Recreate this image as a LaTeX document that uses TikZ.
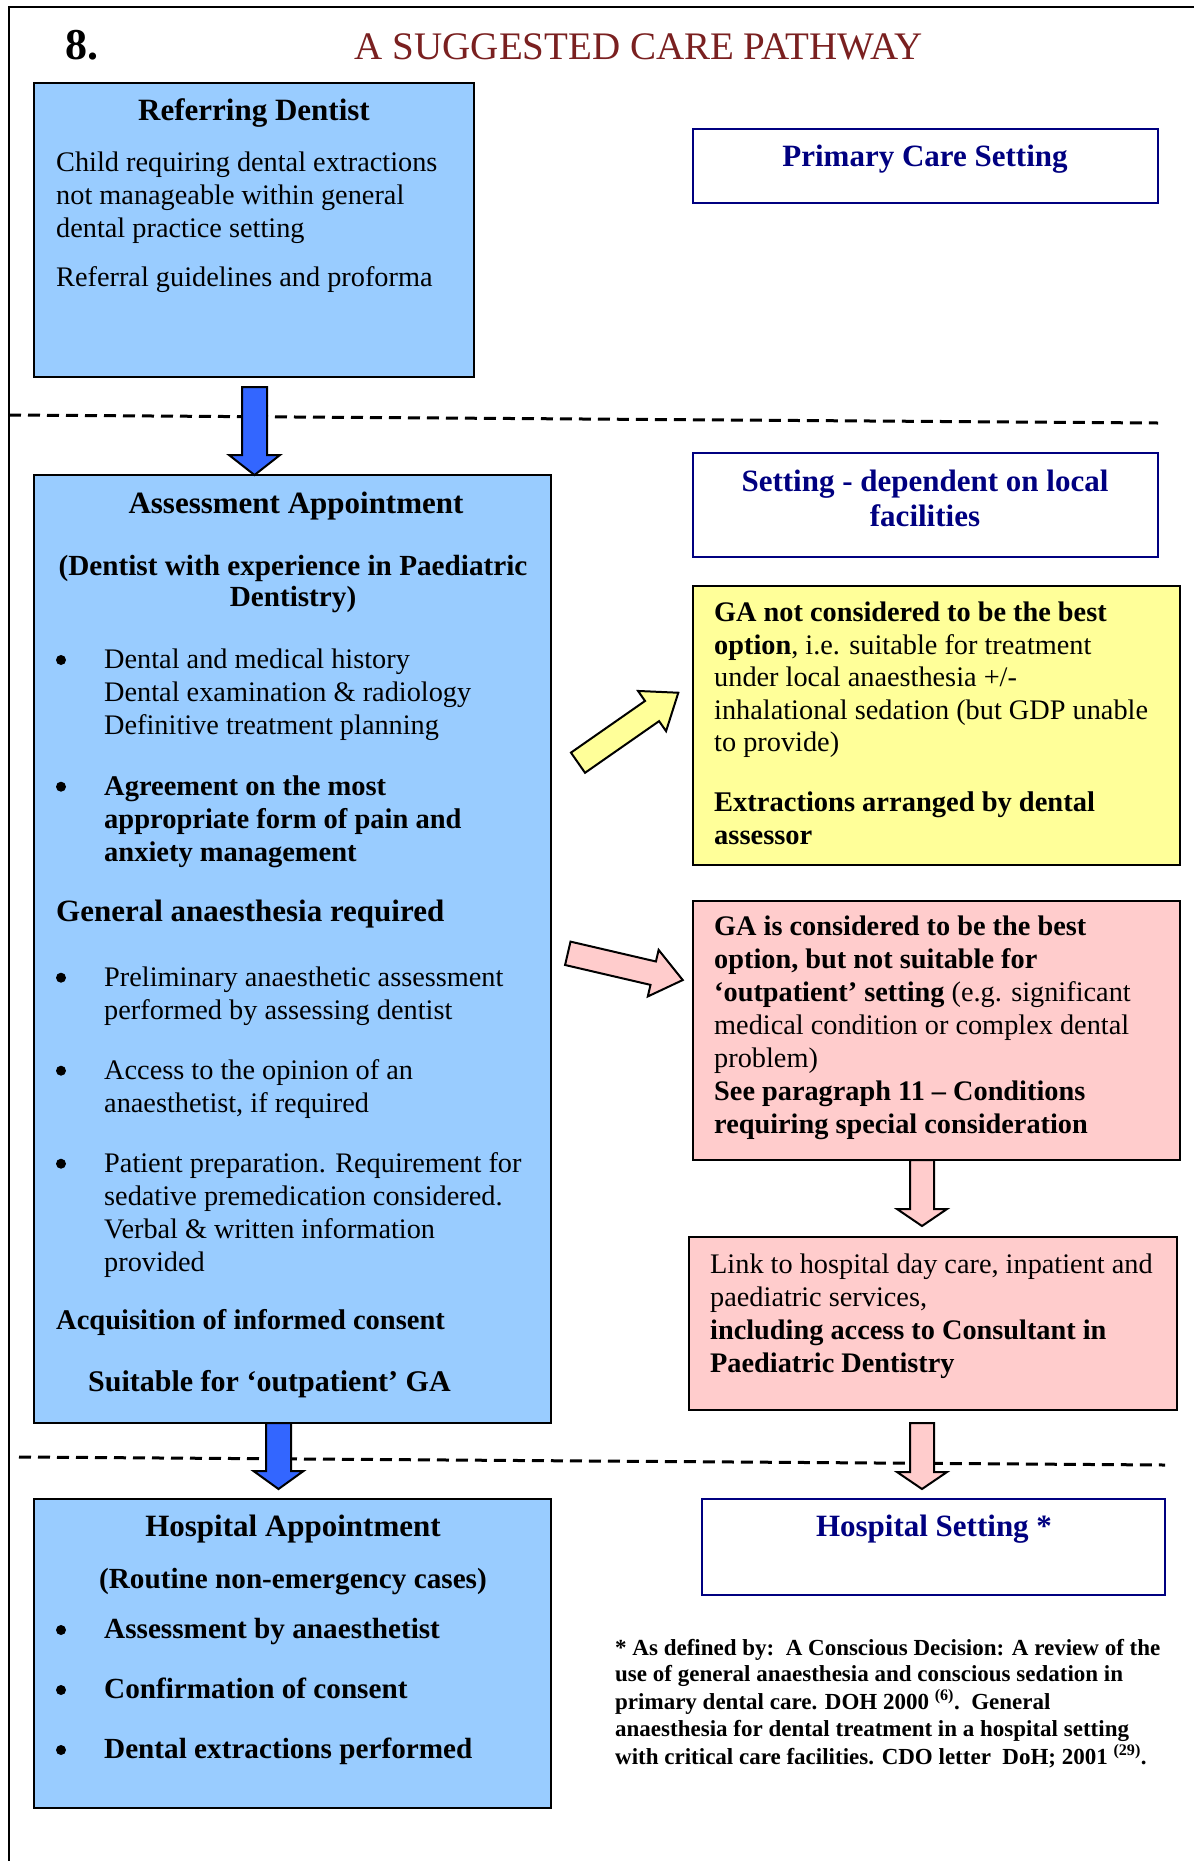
\documentclass[tikz,border=0pt]{standalone}
\usepackage{fontspec}
\setmainfont{Liberation Serif}
\definecolor{boxblue}{RGB}{153,204,255}
\definecolor{arrblue}{RGB}{51,102,255}
\definecolor{yel}{RGB}{255,255,153}
\definecolor{pnk}{RGB}{255,204,204}
\definecolor{navy}{RGB}{0,0,128}
\definecolor{titlered}{RGB}{122,32,32}
\newcommand\bodyfont{\fontsize{28.3}{33}\selectfont}
\newcommand\boldbody{\fontsize{28.5}{33}\selectfont\bfseries}
\newcommand\headfont{\fontsize{31}{35}\selectfont\bfseries}
\newcommand\subfont{\fontsize{29.2}{31.7}\selectfont\bfseries}
\newcommand\notefont{\fontsize{23}{26.5}\selectfont\bfseries}
\newcommand\rowsL[1]{\begin{tabular}[t]{@{}l@{}}#1\end{tabular}}
\newcommand\rowsC[1]{\begin{tabular}[t]{@{}c@{}}#1\end{tabular}}
\tikzset{
  frame/.style={draw=black, line width=2.5pt, anchor=north west, inner sep=0pt, outer sep=0pt},
  navybox/.style={draw=navy, line width=2.5pt, anchor=north west, inner sep=0pt, outer sep=0pt},
  tl/.style={anchor=base west, inner sep=0pt, font=\bodyfont},
  tc/.style={anchor=base, inner sep=0pt},
  bul/.style={circle, fill=black, inner sep=0pt, minimum size=10pt, yshift=8.3pt},
  dashline/.style={line width=3pt, dash pattern=on 12pt off 7pt},
  blockarr/.style={draw=black, line width=2pt, line join=miter},
}
\begin{document}
\begin{tikzpicture}[x=1pt, y=-1pt]
\fill[white] (0,0) rectangle (1194,1861);
\useasboundingbox (0,0) rectangle (1194,1861);
% page frame
\coordinate (fbl) at (9,1861);
\coordinate (ftl) at (9,7);
\coordinate (ftr) at (1194,7);
\draw[line width=2pt] (fbl) -- (ftl) -- (ftr);
% title
\node[anchor=base west, inner sep=0pt, font=\fontsize{44}{50}\selectfont\bfseries] (num) at (65,59.3) {8.};
\node[tc, font=\fontsize{39}{44}\selectfont, text=titlered] (title) at (639,59.3) {A SUGGESTED CARE PATHWAY};

% dashed separators
\coordinate (d1a) at (9,415);
\coordinate (d1b) at (1158,423);
\draw[dashline] (d1a) -- (d1b);
\coordinate (d2a) at (19,1457);
\coordinate (d2b) at (1165,1465);
\draw[dashline] (d2a) -- (d2b);

% Referring dentist
\node[frame, fill=boxblue, minimum width=440pt, minimum height=294pt] (ref) at (34,83) {};
\node[tc, font=\headfont] (refh) at (254,120.7) {Referring Dentist};
\node[tl] (reft1) at (56,171.7) {\rowsL{Child requiring dental extractions\\not manageable within general\\dental practice setting}};
\node[tl] (reft2) at (56,286) {Referral guidelines and proforma};

% Primary care setting
\node[navybox, minimum width=465pt, minimum height=74pt] (prim) at (693,129) {};
\node[tc, font=\headfont, text=navy] (primt) at (925,166.7) {Primary Care Setting};

% Assessment appointment
\node[frame, fill=boxblue, minimum width=517pt, minimum height=948pt] (ass) at (34,475) {};
\node[tc, font=\headfont] (assh) at (296,513.3) {Assessment Appointment};
\node[tc, font=\subfont] (asss) at (293,575) {\rowsC{(Dentist with experience in Paediatric\\Dentistry)}};
\node[bul] (b1) at (61,668.3) {};
\node[tl] (b1t) at (104,668.3) {\rowsL{Dental and medical history\\Dental examination \& radiology\\Definitive treatment planning}};
\node[bul] (b2) at (61,795) {};
\node[tl, font=\boldbody] (b2t) at (104,795) {\rowsL{Agreement on the most\\appropriate form of pain and\\anxiety management}};
\node[anchor=base west, inner sep=0pt, font=\headfont] (gar) at (56,921.7) {General anaesthesia required};
\node[bul] (b3) at (61,986) {};
\node[tl] (b3t) at (104,986) {\rowsL{Preliminary anaesthetic assessment\\performed by assessing dentist}};
\node[bul] (b4) at (61,1079) {};
\node[tl] (b4t) at (104,1079) {\rowsL{Access to the opinion of an\\anaesthetist, if required}};
\node[bul] (b5) at (61,1172) {};
\node[tl] (b5t) at (104,1172) {\rowsL{Patient preparation. Requirement for\\sedative premedication considered.\\Verbal \& written information\\provided}};
\node[tl, font=\boldbody] (acq) at (56,1329.8) {Acquisition of informed consent};
\node[anchor=base west, inner sep=0pt, font=\fontsize{30}{34}\selectfont\bfseries] (suit) at (88,1391) {Suitable for ‘outpatient’ GA};

% Setting dependent
\node[navybox, minimum width=465pt, minimum height=104pt] (sett) at (693,453) {};
\node[tc, font=\headfont, text=navy] (settt) at (925,491.7) {\rowsC{Setting - dependent on local\\facilities}};

% Yellow box
\node[frame, fill=yel, minimum width=487pt, minimum height=279pt] (yb) at (693,586) {};
\node[tl, font=\fontsize{28.3}{32.5}\selectfont] (ybt1) at (714,621.7) {\rowsL{\textbf{GA not considered to be the best}\\\textbf{option}, i.e. suitable for treatment\\under local anaesthesia +/-\\inhalational sedation (but GDP unable\\to provide)}};
\node[tl, font=\boldbody] (ybt2) at (714,811.7) {\rowsL{Extractions arranged by dental\\assessor}};

% Pink box 1
\node[frame, fill=pnk, minimum width=487pt, minimum height=259pt] (pb1) at (693,901) {};
\node[tl] (pb1t) at (714,935) {\rowsL{\textbf{GA is considered to be the best}\\\textbf{option, but not suitable for}\\\textbf{‘outpatient’ setting} (e.g. significant\\medical condition or complex dental\\problem)\\\textbf{See paragraph 11 – Conditions}\\\textbf{requiring special consideration}}};

% Pink box 2
\node[frame, fill=pnk, minimum width=488pt, minimum height=173pt] (pb2) at (689,1237) {};
\node[tl, font=\fontsize{28.3}{32.8}\selectfont] (pb2t) at (710,1273.7) {\rowsL{Link to hospital day care, inpatient and\\paediatric services,\\\textbf{including access to Consultant in}\\\textbf{Paediatric Dentistry}}};

% Hospital appointment
\node[frame, fill=boxblue, minimum width=517pt, minimum height=309pt] (hosp) at (34,1499) {};
\node[tc, font=\headfont] (hosph) at (293,1536.7) {Hospital Appointment};
\node[tc, font=\subfont] (hosps) at (293,1588.3) {(Routine non-emergency cases)};
\node[bul] (h1) at (61,1638.3) {};
\node[anchor=base west, inner sep=0pt, font=\subfont] (h1t) at (104,1638.3) {Assessment by anaesthetist};
\node[bul] (h2) at (61,1698.3) {};
\node[anchor=base west, inner sep=0pt, font=\subfont] (h2t) at (104,1698.3) {Confirmation of consent};
\node[bul] (h3) at (61,1758.3) {};
\node[anchor=base west, inner sep=0pt, font=\subfont] (h3t) at (104,1758.3) {Dental extractions performed};

% Hospital setting
\node[navybox, minimum width=463pt, minimum height=96pt] (hset) at (702,1499) {};
\node[tc, font=\headfont, text=navy] (hsett) at (934,1536.7) {Hospital Setting *};

% footnote
\node[anchor=base west, inner sep=0pt, font=\notefont] (note) at (615,1655) {\rowsL{* As defined by:\ \ A Conscious Decision: A review of the\\use of general anaesthesia and conscious sedation in\\primary dental care. DOH 2000 \textsuperscript{(6)}.\ \ General\\anaesthesia for dental treatment in a hospital setting\\with critical care facilities. CDO letter\ \ DoH; 2001 \textsuperscript{(29)}.}};

% block arrows (vertical)
\draw[blockarr, fill=arrblue] (242,387) -- (267,387) -- (267,455) -- (280,455) -- (254.5,475) -- (229,455) -- (242,455) -- cycle;
\draw[blockarr, fill=arrblue] (266,1423) -- (291,1423) -- (291,1471) -- (303.5,1471) -- (278.5,1489) -- (253.5,1471) -- (266,1471) -- cycle;
\draw[blockarr, fill=pnk] (910,1160) -- (934,1160) -- (934,1209) -- (947,1209) -- (922,1226) -- (897,1209) -- (910,1209) -- cycle;
\draw[blockarr, fill=pnk] (910,1423) -- (934,1423) -- (934,1472) -- (947,1472) -- (922,1489) -- (897,1472) -- (910,1472) -- cycle;
% diagonal block arrows
\begin{scope}[shift={(578,762.7)}, rotate=34.9]
\draw[blockarr, fill=yel] (0,-12.3) -- (90.3,-12.3) -- (90.3,-24.5) -- (122.3,0) -- (90.3,24.5) -- (90.3,12.3) -- (0,12.3) -- cycle;
\end{scope}
\begin{scope}[shift={(567.8,953.3)}, rotate=-13.1]
\draw[blockarr, fill=pnk] (0,-12) -- (87.7,-12) -- (87.7,-23.9) -- (118,0) -- (87.7,23.9) -- (87.7,12) -- (0,12) -- cycle;
\end{scope}
\end{tikzpicture}
\end{document}
